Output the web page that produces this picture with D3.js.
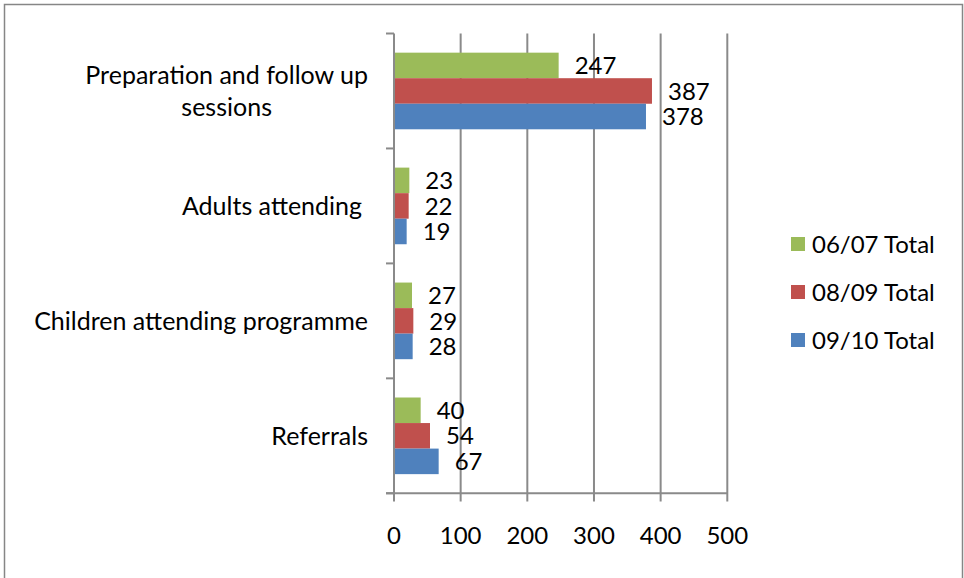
<!DOCTYPE html>
<html><head><meta charset="utf-8">
<script src="https://cdn.jsdelivr.net/npm/d3@7"></script>
<style>
body{margin:0;background:#fff;}
text{font-family:Lato,"Liberation Sans",sans-serif;fill:#000;}
</style></head>
<body><svg id="c" width="964" height="578"></svg>
<script>
const categories = [["Preparation and follow up","sessions"],["Adults attending"],["Children attending programme"],["Referrals"]];
const seriesNames = ["06/07 Total","08/09 Total","09/10 Total"];
const s0607 = [247, 23, 27, 40];
const s0809 = [387, 22, 29, 54];
const s0910 = [378, 19, 28, 67];
const xTicks = [0,100,200,300,400,500];
const colors = ["#9BBB59","#C0504D","#4F81BD"];

const series = [s0607, s0809, s0910];
const svg = d3.select("#c");
const fs = 24;
const fsCat = 25;

// frame
svg.append("rect").attr("x",4.5).attr("y",4.5).attr("width",958).attr("height",600)
  .attr("fill","none").attr("stroke","#868686").attr("stroke-width",1.5);

const x = d3.scaleLinear().domain([0,500]).range([394,727.3]);
const y = d3.scaleBand().domain(d3.range(categories.length)).range([33.5,493.3]).paddingInner(0).paddingOuter(0);
const y1 = d3.scaleBand().domain(d3.range(3)).range([0,y.bandwidth()]).paddingOuter(0.75).paddingInner(0);

// gridlines
svg.append("g").selectAll("line").data(xTicks.slice(1)).join("line")
  .attr("x1",d=>x(d)).attr("x2",d=>x(d)).attr("y1",33.5).attr("y2",501.5)
  .attr("stroke","#8a8a8a").attr("stroke-width",2);

// bars
const g = svg.append("g");
categories.forEach((c,i)=>{
  series.forEach((s,j)=>{
    const yy = y(i)+y1(j);
    g.append("rect").attr("x",x(0)).attr("y",yy).attr("width",x(s[i])-x(0)).attr("height",y1.bandwidth())
      .attr("fill",colors[j]);
    g.append("text").attr("x",x(s[i])+16).attr("y",yy+y1.bandwidth()/2).attr("dy","0.36em")
      .attr("font-size",fs).text(s[i]);
  });
});

// y axis line & ticks
svg.append("line").attr("x1",394).attr("x2",394).attr("y1",33.5).attr("y2",501.5).attr("stroke","#8a8a8a").attr("stroke-width",2);
const bounds = d3.range(categories.length+1).map(i=> i<categories.length ? y(i) : 493.3);
svg.append("g").selectAll("line").data(bounds).join("line")
  .attr("x1",386).attr("x2",394).attr("y1",d=>d).attr("y2",d=>d).attr("stroke","#8a8a8a").attr("stroke-width",2);
// x axis
svg.append("line").attr("x1",386).attr("x2",727.3).attr("y1",493.3).attr("y2",493.3).attr("stroke","#8a8a8a").attr("stroke-width",2);
svg.append("g").selectAll("text").data(xTicks).join("text")
  .attr("x",d=>x(d)).attr("y",535).attr("dy","0.36em").attr("text-anchor","middle").attr("font-size",fs).text(d=>d);

// category labels
categories.forEach((lines,i)=>{
  const cy = y(i)+y.bandwidth()/2;
  const lh = 32;
  const t = svg.append("text").attr("font-size",fsCat);
  const tmp = lines.map(l=>{ const tt = svg.append("text").attr("font-size",fsCat).text(l); const w = tt.node().getComputedTextLength(); tt.remove(); return w;});
  const maxW = d3.max(tmp);
  const right = i===1 ? 362 : 368;
  lines.forEach((l,k)=>{
    t.append("tspan").attr("x", right - maxW/2).attr("text-anchor","middle")
      .attr("y", cy + (k-(lines.length-1)/2)*lh).attr("dy","0.36em").text(l);
  });
});

// legend
seriesNames.forEach((n,j)=>{
  const cy = 244 + j*48;
  svg.append("rect").attr("x",791).attr("y",cy-7).attr("width",14).attr("height",14).attr("fill",colors[j]);
  svg.append("text").attr("x",812).attr("y",cy).attr("dy","0.36em").attr("font-size",fs).text(n);
});
</script></body></html>
